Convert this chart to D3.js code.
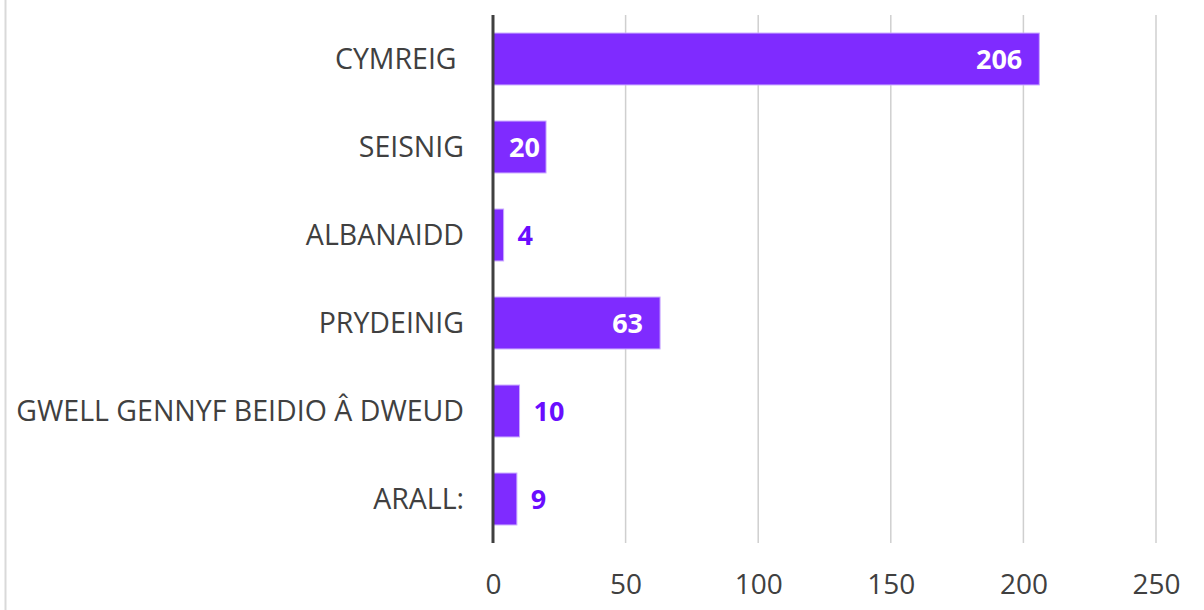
<!DOCTYPE html>
<html><head><meta charset="utf-8">
<script src="https://cdn.jsdelivr.net/npm/d3@7"></script>
<style>body{margin:0;background:#fff}svg{display:block}</style>
</head><body>
<svg id="c" width="1204" height="610"></svg>
<script>
const categories = ["CYMREIG ", "SEISNIG", "ALBANAIDD", "PRYDEINIG", "GWELL GENNYF BEIDIO Â DWEUD", "ARALL:"];
const values = [206, 20, 4, 63, 10, 9];
const ticks = [0, 50, 100, 150, 200, 250];

const svg = d3.select("#c");
const font = "'Open Sans', sans-serif";
const x = d3.scaleLinear().domain([0, 250]).range([493, 1156]);
const y = d3.scaleBand().domain(categories).range([15, 543]).paddingInner(0.41).paddingOuter(0.205);

svg.append("line").attr("x1", 5.5).attr("x2", 5.5).attr("y1", 0).attr("y2", 610).attr("stroke", "#d9d9d9").attr("stroke-width", 2);

// gridlines
svg.append("g").selectAll("line").data(ticks.slice(1)).join("line")
  .attr("x1", d => x(d)).attr("x2", d => x(d)).attr("y1", 15).attr("y2", 543)
  .attr("stroke", "#cfcfcf").attr("stroke-width", 1.5);

// bars
svg.append("g").selectAll("rect").data(values).join("rect")
  .attr("x", x(0)).attr("y", (d, i) => y(categories[i]))
  .attr("width", d => x(d) - x(0)).attr("height", y.bandwidth())
  .attr("fill", "#7f2bff").attr("stroke", "#c9a8ff").attr("stroke-width", 1);

// axis line
svg.append("line").attr("x1", x(0)).attr("x2", x(0)).attr("y1", 15).attr("y2", 543)
  .attr("stroke", "#404040").attr("stroke-width", 3);

// x axis
const xAxis = d3.axisBottom(x).tickValues(ticks).tickSize(0).tickPadding(0).tickFormat(d3.format("d"));
const gx = svg.append("g").attr("transform", "translate(0,594)").call(xAxis);
gx.select(".domain").remove();
gx.selectAll("text").attr("font-family", font).attr("font-size", 28).attr("fill", "#404040").attr("dy", "0").attr("y", 0);

// category labels
const yAxis = d3.axisLeft(y).tickSize(0).tickPadding(0);
const gy = svg.append("g").attr("transform", "translate(464,0)").call(yAxis);
gy.select(".domain").remove();
gy.selectAll("text").attr("font-family", font).attr("font-size", 28.5).attr("fill", "#404040")
  .attr("dy", "0.357em").style("white-space", "pre").attr("xml:space", "preserve");

// value labels
const lbl = svg.append("g").selectAll("text").data(values).join("text")
  .attr("font-family", font).attr("font-weight", "bold").attr("font-size", 27)
  .attr("y", (d, i) => y(categories[i]) + y.bandwidth() / 2).attr("dy", "0.357em")
  .attr("text-anchor", d => d >= 15 ? "end" : "start")
  .attr("fill", d => d >= 15 ? "#ffffff" : "#6a0dff")
  .text(d => d);
lbl.attr("x", function(d) {
  if (d < 15) return x(d) + 14;
  const w = this.getComputedTextLength();
  return Math.max(x(d) - 17, x(0) + 16 + w);
});
</script>
</body></html>
